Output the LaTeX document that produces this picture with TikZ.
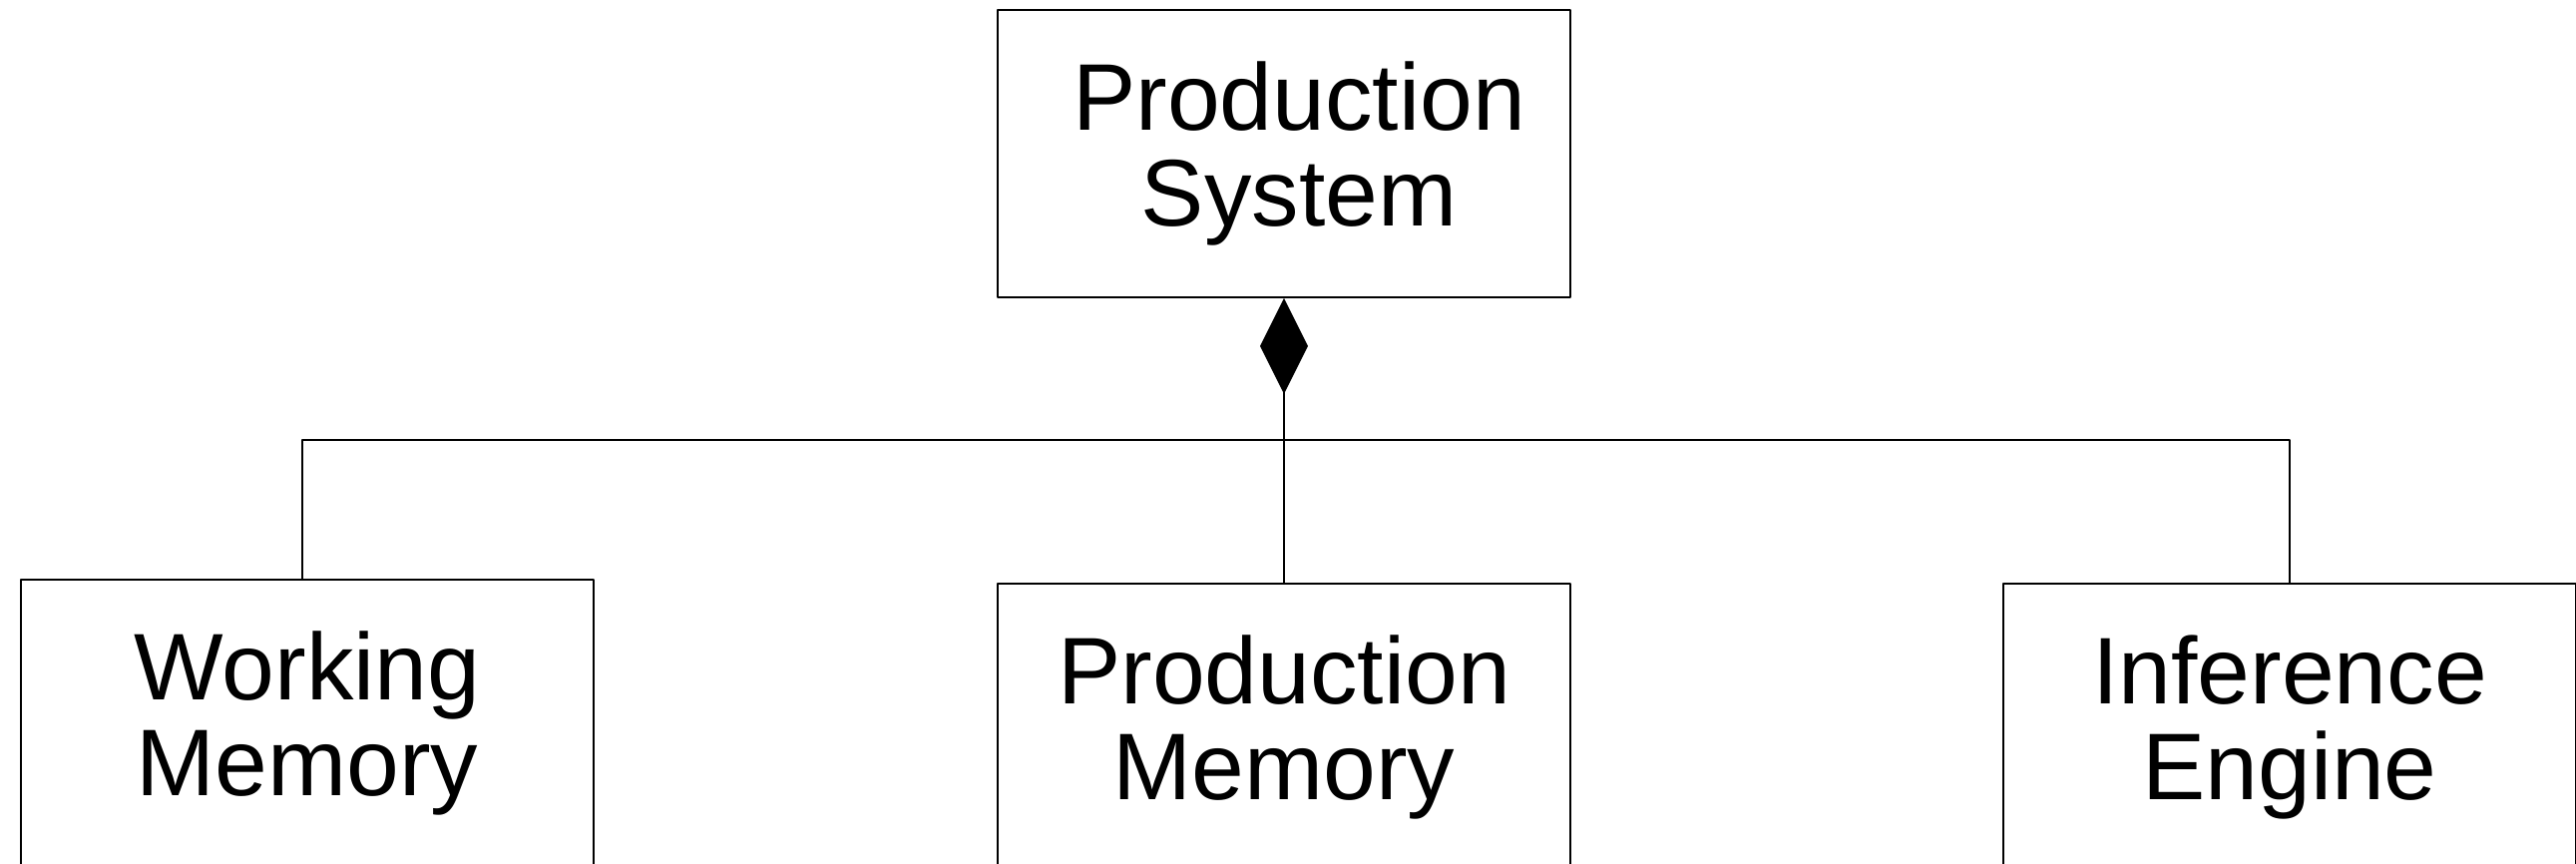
\documentclass[tikz,border=0pt]{standalone}
\usepackage{fontspec}
\setmainfont{Liberation Sans}
\usetikzlibrary{arrows.meta}

\begin{document}
\begin{tikzpicture}[line cap=round, line join=round]

% ---------------- styles ----------------
\tikzset{
  umlClass/.style   ={draw, line width=0.5pt, rectangle, inner sep=0pt,
                      minimum width=5.74cm, minimum height=2.88cm,
                      align=center, font=\fontsize{27}{27.5}\selectfont},
  umlLink/.style    ={draw, line width=0.5pt},
  umlCompose/.style ={umlLink, {Diamond[length=9.6mm, width=4.8mm]}-}
}

% ---------------- parameters (tune once) ----------------
\def\W{25.82}   % picture width
\def\H{8.66}    % picture height
\def\yBus{4.25} % height of the shared branch line
\def\Ind{\hspace*{0.3cm}} % small left pad of the top class text

\useasboundingbox (0,0) rectangle (\W,\H);

% ---------------- classes ----------------
\node[umlClass] (prodSys) at (12.87,7.12) {\Ind Production\\\Ind System};
\node[umlClass] (workMem) at (3.08,1.41)  {Working\\Memory};
\node[umlClass] (prodMem) at (12.87,1.37) {Production\\Memory};
\node[umlClass] (infEng)  at (22.95,1.37) {Inference\\Engine};

% ---------------- composition (whole -> parts) ----------------
\coordinate (busMid) at (prodSys.south |- 0,\yBus);
\coordinate (wmTop)  at ([xshift=-0.05cm]workMem.north);

\draw[umlCompose] (prodSys.south) -- (busMid);
\draw[umlLink] (wmTop) |- (busMid) -| (infEng.north);
\draw[umlLink] (prodMem.north) -- (busMid);

\end{tikzpicture}
\end{document}
